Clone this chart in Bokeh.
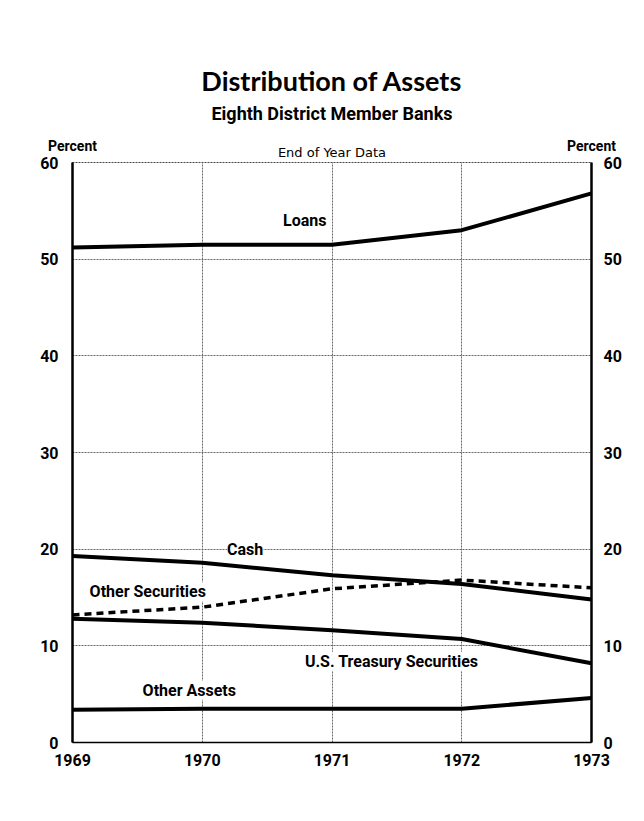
from bokeh.plotting import figure
from bokeh.models import LinearAxis, FixedTicker, ColumnDataSource, Range1d, Title
from bokeh.core.properties import value
from bokeh.embed import file_html
from bokeh.resources import INLINE

years = [1969, 1970, 1971, 1972, 1973]
loans = [51.2, 51.5, 51.5, 53.0, 56.8]
cash = [19.3, 18.6, 17.3, 16.4, 14.8]
other_securities = [13.2, 14.0, 15.9, 16.8, 16.0]
us_treasury = [12.8, 12.4, 11.6, 10.7, 8.2]
other_assets = [3.4, 3.5, 3.5, 3.5, 4.6]

label_text = ["Loans", "Cash", "Other Securities", "U.S. Treasury Securities", "Other Assets"]
label_x = [1970.79, 1970.33, 1969.58, 1971.46, 1969.9]
label_y = [54.0, 20.0, 15.6, 8.4, 5.4]

y_ticks = [0, 10, 20, 30, 40, 50, 60]

title = "Distribution of Assets"
subtitle = "Eighth District Member Banks"
note = "End of Year Data"
unit = "Percent"

COND = "Roboto"

p = figure(width=628, height=792, output_backend="svg", toolbar_location=None,
           x_range=Range1d(1969, 1973), y_range=Range1d(0, 60),
           min_border_left=72, min_border_right=37, min_border_top=162, min_border_bottom=50)
p.title.visible = False
p.background_fill_color = "white"
p.border_fill_color = "white"
p.outline_line_color = "#444444"
p.outline_line_width = 1
p.outline_line_dash = "2 1"

for g in (p.xgrid, p.ygrid):
    g.grid_line_color = "#666666"
    g.grid_line_width = 1
    g.grid_line_dash = "2 1"
p.xgrid.ticker = FixedTicker(ticks=years)
p.ygrid.ticker = FixedTicker(ticks=y_ticks)

def style(ax, width, standoff, size="16px"):
    ax.axis_line_color = "black" if width else None
    ax.axis_line_width = width or 1
    ax.major_tick_line_color = None
    ax.minor_tick_line_color = None
    ax.major_label_text_font = COND
    ax.major_label_text_font_style = "bold"
    ax.major_label_text_font_size = size
    ax.major_label_text_color = "black"
    ax.major_label_standoff = standoff

p.xaxis.ticker = FixedTicker(ticks=years)
p.yaxis.ticker = FixedTicker(ticks=y_ticks)
for ax in p.xaxis:
    style(ax, 1.5, 5)
for ax in p.yaxis:
    style(ax, 2.5, 8)

ry = LinearAxis(ticker=FixedTicker(ticks=y_ticks))
style(ry, 2.5, 6)
p.add_layout(ry, "right")

# header row: "End of Year Data" centred, "Percent" over each vertical axis
note_ax = LinearAxis(ticker=FixedTicker(ticks=[1971]), major_label_overrides={1971: note})
style(note_ax, 0, -3, "13px")
note_ax.major_label_text_font = "DejaVu Sans"
note_ax.major_label_text_font_style = "normal"
p.add_layout(note_ax, "above")

unit_ax = LinearAxis(ticker=FixedTicker(ticks=[1969, 1973]),
                     major_label_overrides={1969: unit, 1973: unit})
style(unit_ax, 0, -18, "14px")
p.add_layout(unit_ax, "above")

p.add_layout(Title(text=subtitle, align="center", text_font=COND, text_font_style="bold",
                   text_font_size="18px", text_color="black", standoff=21), "above")
p.add_layout(Title(text=title, align="center", text_font="Lato", text_font_style="bold",
                   text_font_size="27px", text_color="black", standoff=-13), "above")

src = ColumnDataSource(dict(year=years, loans=loans, cash=cash, osec=other_securities,
                            ust=us_treasury, oa=other_assets))
for col in ["loans", "cash", "ust", "oa"]:
    p.line("year", col, source=src, line_color="black", line_width=4)
p.line("year", "osec", source=src, line_color="black", line_width=3.5, line_dash="7 5")

lsrc = ColumnDataSource(dict(x=label_x, y=label_y, t=label_text))
p.text("x", "y", text="t", source=lsrc, text_font=value(COND), text_font_style="bold",
       text_font_size="16px", text_color="black", text_align="center", text_baseline="middle",
       background_fill_color="white")

open("out.html", "w").write(file_html(p, INLINE))
